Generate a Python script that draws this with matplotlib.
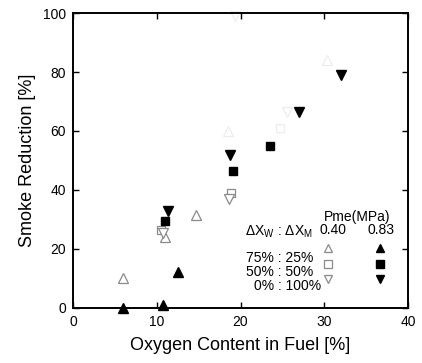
import matplotlib
matplotlib.use("Agg")
import matplotlib.pyplot as plt

plt.rcParams["font.family"] = ["Liberation Sans", "DejaVu Sans"]
plt.rcParams["mathtext.fontset"] = "custom"
plt.rcParams["mathtext.rm"] = "Liberation Sans"

# Pme = 0.40 MPa (open markers)
up_040_x = [6.0, 11.0, 14.7]
up_040_y = [10.0, 24.0, 31.5]
sq_040_x = [10.5, 18.9]
sq_040_y = [26.5, 38.8]
dn_040_x = [10.8, 18.6]
dn_040_y = [25.5, 37.0]

# faded (barely visible in the scan) open markers
faded_x = [18.5, 24.7, 25.5, 30.3, 19.3]
faded_y = [60.0, 61.0, 66.5, 84.0, 99.0]
faded_m = ["^", "s", "v", "^", "v"]

# Pme = 0.83 MPa (filled markers)
up_083_x = [6.0, 10.8, 12.5]
up_083_y = [0.0, 1.0, 12.0]
sq_083_x = [11.0, 19.1, 23.5]
sq_083_y = [29.5, 46.5, 55.0]
dn_083_x = [11.3, 18.8, 27.0, 32.0]
dn_083_y = [33.0, 52.0, 66.5, 79.0]

ratio_labels = ["75% : 25%", "50% : 50%", "0% : 100%"]
markers = ["^", "s", "v"]
sizes = {"^": 6.5, "s": 6.0, "v": 6.5}

open_col = "#8a8a8a"

fig = plt.figure(figsize=(4.22, 3.63), dpi=100)
ax = fig.add_axes([0.173, 0.152, 0.794, 0.812])

for xs, ys, m in [(up_040_x, up_040_y, "^"), (sq_040_x, sq_040_y, "s"), (dn_040_x, dn_040_y, "v")]:
    ax.plot(xs, ys, m, ms=sizes[m], mfc="white", mec=open_col, mew=0.9, ls="none", clip_on=False)
for x, y, m in zip(faded_x, faded_y, faded_m):
    ax.plot(x, y, m, ms=sizes[m], mfc="none", mec="#ececec", mew=0.8, ls="none", clip_on=False)
for xs, ys, m in [(up_083_x, up_083_y, "^"), (sq_083_x, sq_083_y, "s"), (dn_083_x, dn_083_y, "v")]:
    ax.plot(xs, ys, m, ms=sizes[m], color="black", ls="none", clip_on=False, zorder=3)

ax.set_xlim(0, 40)
ax.set_ylim(0, 100)
ax.set_xticks([0, 10, 20, 30, 40])
ax.set_yticks([0, 20, 40, 60, 80, 100])
ax.tick_params(direction="in", top=True, right=True, length=4, width=1, labelsize=10, pad=5)
for s in ax.spines.values():
    s.set_linewidth(1.4)
ax.set_xlabel("Oxygen Content in Fuel [%]", fontsize=13, labelpad=6)
ax.set_ylabel("Smoke Reduction [%]", fontsize=13, labelpad=5)

# hand-drawn legend block like the original
tr = ax.transAxes
ax.text(0.848, 0.308, "Pme(MPa)", transform=tr, ha="center", va="center", fontsize=10)
ax.text(0.716, 0.258, r"$\Delta\mathrm{X}_\mathrm{W}$ : $\Delta\mathrm{X}_\mathrm{M}$", transform=tr,
        ha="right", va="center", fontsize=10)
ax.text(0.776, 0.264, "0.40", transform=tr, ha="center", va="center", fontsize=10)
ax.text(0.919, 0.264, "0.83", transform=tr, ha="center", va="center", fontsize=10)
row_y = [0.203, 0.149, 0.098]
text_y = [0.169, 0.122, 0.075]
text_x = [0.716, 0.716, 0.740]
for m, ry, ty, tx, lab in zip(markers, row_y, text_y, text_x, ratio_labels):
    ax.plot(0.761, ry, m, ms=sizes[m] - 0.5, mfc="white", mec=open_col, mew=0.9, transform=tr, clip_on=False)
    ax.plot(0.916, ry, m, ms=sizes[m] - 0.5, color="black", transform=tr, clip_on=False)
    ax.text(tx, ty, lab, transform=tr, ha="right", va="center", fontsize=10)

fig.savefig("out.png", dpi=100)
